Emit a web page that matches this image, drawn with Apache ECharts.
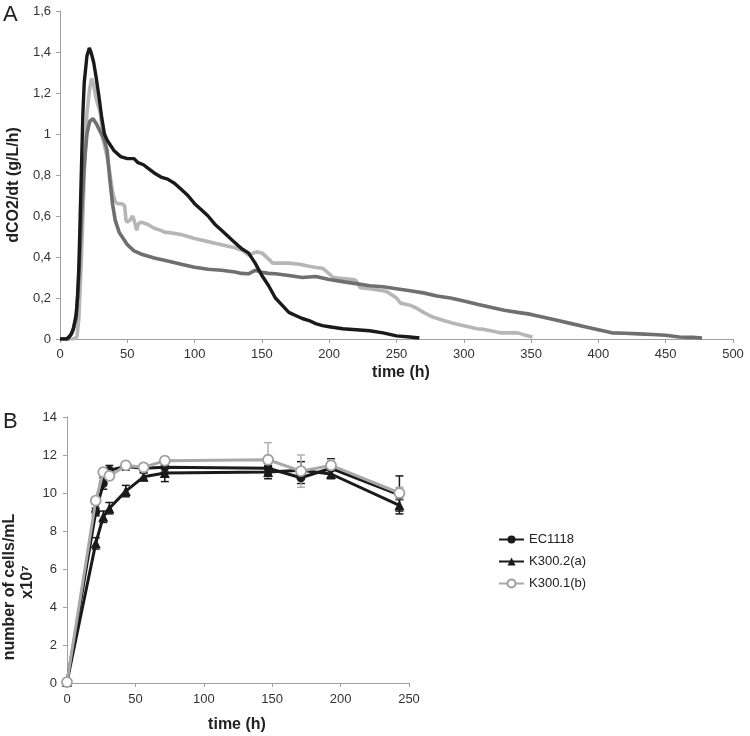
<!DOCTYPE html>
<html>
<head>
<meta charset="utf-8">
<script src="https://cdn.jsdelivr.net/npm/echarts@6/dist/echarts.min.js"></script>
<style>html,body{margin:0;padding:0;background:#fff}#c{width:750px;height:736px}</style>
</head>
<body>
<div id="c"></div>
<script>
// ---- Panel A: CO2 release rate (three fermentation curves) ----
var blackT = [0,5,8,10,12,13,14,15,16,17,18,20,21.8,23,25,27,29,31,33,35,37,40,45,50,55,58,62,66,70,75,80,85,90,95,100,105,110,115,120,125,130,135,140,145,150,155,160,165,170,175,180,185,190,195,200,210,220,230,240,250,260,267];
var blackV = [0,0,0.02,0.05,0.12,0.2,0.35,0.6,0.85,1.1,1.25,1.38,1.42,1.40,1.35,1.27,1.18,1.08,1.0,0.97,0.95,0.92,0.89,0.88,0.88,0.86,0.85,0.83,0.81,0.79,0.78,0.76,0.73,0.70,0.66,0.63,0.60,0.56,0.53,0.50,0.47,0.44,0.42,0.37,0.31,0.26,0.20,0.165,0.13,0.115,0.10,0.09,0.075,0.065,0.06,0.05,0.045,0.04,0.03,0.015,0.01,0.005];

var darkT = [0,6,9,12,14,16,18,20,22,24.5,27,30,33,35,37,39,41,44,47,50,55,60,70,80,90,100,110,120,130,135,140,145,150,155,160,170,180,190,200,210,220,230,240,250,260,270,280,290,300,310,320,330,340,350,360,370,380,390,400,410,420,430,440,450,460,470,477];
var darkV = [0,0,0.03,0.1,0.3,0.6,0.85,1.0,1.06,1.075,1.05,1.01,0.97,0.92,0.78,0.66,0.58,0.52,0.49,0.46,0.43,0.415,0.395,0.38,0.365,0.35,0.34,0.335,0.327,0.32,0.318,0.335,0.325,0.32,0.318,0.31,0.30,0.305,0.29,0.28,0.27,0.26,0.255,0.245,0.235,0.225,0.21,0.20,0.185,0.17,0.155,0.14,0.13,0.12,0.105,0.09,0.075,0.06,0.045,0.03,0.028,0.025,0.022,0.018,0.01,0.008,0.005];

var lightT = [0,10,12.6,14,16,18,20,22,23.5,25,27,30,32,35,37,39,41,43,46,48,49,50,52,54,55,57,58,60,65,70,75,78,80,90,100,110,120,130,136,140,146,150,155,158,165,170,178,185,189,195,198,203,210,218,220,223,230,240,243,250,253,260,265,270,277,285,292,300,310,314,320,327,335,340,345,351];
var lightV = [0,0,0.01,0.1,0.4,0.8,1.1,1.22,1.27,1.24,1.17,1.10,0.97,0.89,0.81,0.72,0.67,0.66,0.66,0.65,0.58,0.57,0.58,0.60,0.58,0.53,0.56,0.57,0.56,0.54,0.53,0.52,0.52,0.51,0.49,0.475,0.46,0.445,0.43,0.41,0.425,0.42,0.39,0.37,0.37,0.37,0.365,0.355,0.35,0.345,0.33,0.30,0.295,0.29,0.285,0.25,0.245,0.235,0.23,0.2,0.175,0.165,0.15,0.13,0.107,0.09,0.077,0.065,0.05,0.048,0.04,0.03,0.03,0.03,0.02,0.01];

// ---- Panel B: cell counts ----
var cellTimes = [0,21,26.5,31,43,56,71.5,147,171,193,243];
var ec1118 = [0.05,9.0,10.5,11.2,11.4,11.3,11.35,11.3,10.8,11.3,9.9];
var ec1118Err = [0,0.2,0.3,0.25,0.2,0.2,0.25,0.3,0.3,0.5,1.0];
var k3002 = [0.05,7.35,8.75,9.2,10.1,10.85,11.05,11.1,11.2,11.0,9.35];
var k3002Err = [0,0.3,0.3,0.3,0.3,0.2,0.45,0.35,0.45,0.25,0.3];
var k3001 = [0.05,9.6,11.1,10.9,11.45,11.35,11.7,11.75,11.15,11.45,10.0];
var k3001Err = [0,0.2,0.2,0.2,0.2,0.2,0.2,0.9,0.85,0.3,0.3];
var legendNames = ['EC1118','K300.2(a)','K300.1(b)'];

var FONT = 'Liberation Sans, Arial, sans-serif';
var AX = '#a0a0a0';
function zip(t, v){ return t.map(function(x,i){ return [x, v[i]]; }); }
function errData(t, v, e){ return t.map(function(x,i){ return [x, v[i]-e[i], v[i]+e[i]]; }); }
function errSeries(t, v, e, color){
  return {
    type:'custom', xAxisIndex:1, yAxisIndex:1, z:1, silent:true,
    data: errData(t, v, e),
    renderItem: function(params, api){
      var lo = api.coord([api.value(0), api.value(1)]);
      var hi = api.coord([api.value(0), api.value(2)]);
      var w = 4;
      var st = {stroke: color, lineWidth: 1.5};
      return {type:'group', children:[
        {type:'line', shape:{x1:lo[0],y1:lo[1],x2:hi[0],y2:hi[1]}, style:st},
        {type:'line', shape:{x1:hi[0]-w,y1:hi[1],x2:hi[0]+w,y2:hi[1]}, style:st},
        {type:'line', shape:{x1:lo[0]-w,y1:lo[1],x2:lo[0]+w,y2:lo[1]}, style:st}
      ]};
    }
  };
}
function axisCommon(){
  return {
    axisLine:{show:true, onZero:false, lineStyle:{color:AX, width:1}},
    axisTick:{show:true, inside:false, length:4, lineStyle:{color:AX}},
    splitLine:{show:false},
    axisLabel:{color:'#333', fontSize:13, fontFamily:FONT}
  };
}
function ax(extra){ var a = axisCommon(); for (var k in extra){ if (k==='axisLabel'){ for (var j in extra[k]) a.axisLabel[j]=extra[k][j]; } else a[k]=extra[k]; } return a; }

var chart = echarts.init(document.getElementById('c'), null, {renderer:'canvas'});
chart.setOption({
  animation:false,
  backgroundColor:'#fff',
  textStyle:{fontFamily:FONT},
  grid:[
    {left:60, top:11, width:673, height:328},
    {left:67, top:417, width:342, height:266}
  ],
  xAxis:[
    ax({type:'value', gridIndex:0, min:0, max:500, interval:50, axisLabel:{margin:9}}),
    ax({type:'value', gridIndex:1, min:0, max:250, interval:50, axisLabel:{margin:10}})
  ],
  yAxis:[
    ax({type:'value', gridIndex:0, min:0, max:1.6, interval:0.2, axisLabel:{margin:9, formatter:function(v){ return String(Math.round(v*10)/10).replace('.', ','); }}}),
    ax({type:'value', gridIndex:1, min:0, max:14, interval:2, axisLabel:{margin:10}})
  ],
  legend:{
    left:498, top:533, padding:0, orient:'vertical', itemWidth:25, itemHeight:10, itemGap:9,
    textStyle:{fontSize:13, color:'#222', fontFamily:FONT},
    data: legendNames
  },
  graphic:[
    {type:'text', left:3, top:4, style:{text:'A', font:'22px '+FONT, fill:'#222'}},
    {type:'text', left:3, top:411, style:{text:'B', font:'22px '+FONT, fill:'#222'}},
    {type:'text', x:14, y:185, rotation:Math.PI/2, style:{text:'dCO2/dt (g/L/h)', font:'bold 16px '+FONT, fill:'#222', align:'center', verticalAlign:'middle'}},
    {type:'text', x:401, y:373, style:{text:'time (h)', font:'bold 16px '+FONT, fill:'#222', align:'center', verticalAlign:'middle'}},
    {type:'text', x:237, y:725, style:{text:'time (h)', font:'bold 16px '+FONT, fill:'#222', align:'center', verticalAlign:'middle'}},
    {type:'text', x:10, y:587, rotation:Math.PI/2, style:{text:'number of cells/mL', font:'bold 16px '+FONT, fill:'#222', align:'center', verticalAlign:'middle'}},
    {type:'text', x:28, y:582, rotation:Math.PI/2, style:{text:'x10\u2077', font:'bold 16px '+FONT, fill:'#222', align:'center', verticalAlign:'middle'}}
  ],
  series:[
    {type:'line', xAxisIndex:0, yAxisIndex:0, data:zip(lightT, lightV), showSymbol:false, symbol:'none', lineStyle:{color:'#b6b6b6', width:3.6}, z:2},
    {type:'line', xAxisIndex:0, yAxisIndex:0, data:zip(darkT, darkV), showSymbol:false, symbol:'none', lineStyle:{color:'#6f6f6f', width:3.6}, z:3},
    {type:'line', xAxisIndex:0, yAxisIndex:0, data:zip(blackT, blackV), showSymbol:false, symbol:'none', lineStyle:{color:'#1a1a1a', width:3.4}, z:4},

    errSeries(cellTimes, ec1118, ec1118Err, '#1a1a1a'),
    errSeries(cellTimes, k3002, k3002Err, '#1a1a1a'),
    errSeries(cellTimes, k3001, k3001Err, '#b0b0b0'),
    {name:legendNames[0], type:'line', xAxisIndex:1, yAxisIndex:1, data:zip(cellTimes, ec1118), symbol:'circle', symbolSize:9, showAllSymbol:true,
      lineStyle:{color:'#1a1a1a', width:3}, itemStyle:{color:'#1a1a1a'}, z:3},
    {name:legendNames[1], type:'line', xAxisIndex:1, yAxisIndex:1, data:zip(cellTimes, k3002), symbol:'triangle', symbolSize:10, showAllSymbol:true,
      lineStyle:{color:'#1a1a1a', width:3}, itemStyle:{color:'#1a1a1a'}, z:4},
    {name:legendNames[2], type:'line', xAxisIndex:1, yAxisIndex:1, data:zip(cellTimes, k3001), symbol:'circle', symbolSize:10, showAllSymbol:true,
      lineStyle:{color:'#a8a8a8', width:3}, itemStyle:{color:'#ffffff', borderColor:'#a0a0a0', borderWidth:1.8}, z:5}
  ]
});
</script>
</body>
</html>
